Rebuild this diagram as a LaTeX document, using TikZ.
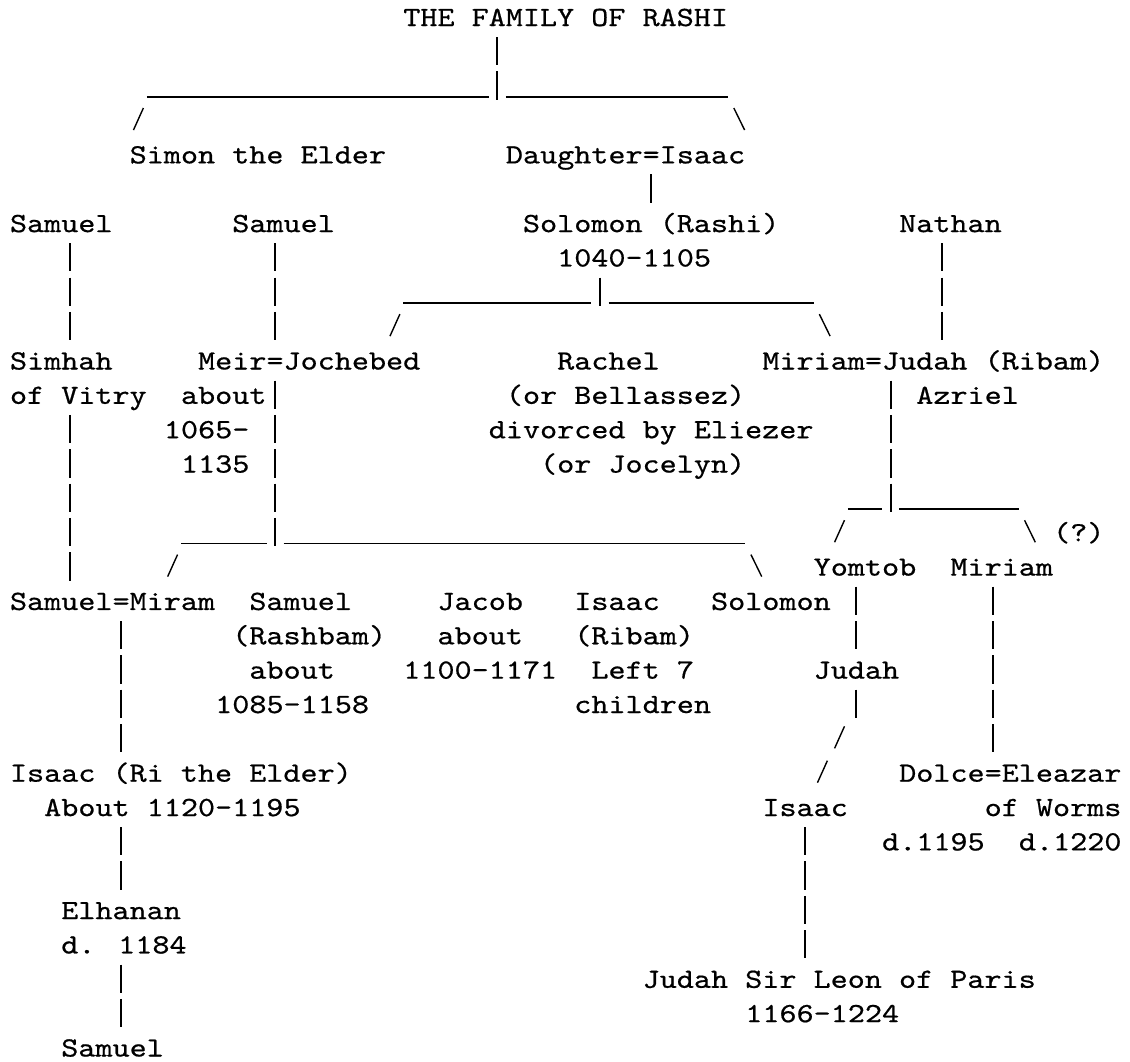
\documentclass[tikz,border=0pt]{standalone}
\usepackage{fontspec}
\newfontfamily\famfont{lmmono10-regular.otf}[FakeStretch=1.171,FakeBold=0.6]
\usepackage{tikz}
\usetikzlibrary{calc}

\begin{document}
\begin{tikzpicture}[x=8.55pt,y=17.175pt,
	person/.style={anchor=base west,inner sep=0pt,outer sep=0pt,font={\famfont\fontsize{13.9pt}{17pt}\selectfont}},
	vline/.style={line width=1pt,dash pattern=on 14.15pt off 3.025pt},
	hline/.style={line width=.65pt},
	slant/.style={line width=.7pt}]
	\useasboundingbox (-5pt,13pt) rectangle (560pt,-517.5pt);
		\node[person] (title) at (23,0) {THE FAMILY OF RASHI};
		\node[person] (simon) at (7,-4) {Simon the Elder};
		\node[person] (daughter) at (29,-4) {Daughter=Isaac};
		\node[person] (samuelA) at (0,-6) {Samuel};
		\node[person] (samuelB) at (13,-6) {Samuel};
		\node[person] (rashi) at (30,-6) {Solomon (Rashi)};
		\node[person] (rashiyr) at (32,-7) {1040-1105};
		\node[person] (nathan) at (52,-6) {Nathan};
		\node[person] (simhah) at (0,-10) {Simhah};
		\node[person] (simhahB) at (0,-11) {of Vitry};
		\node[person] (meir) at (11,-10) {Meir=Jochebed};
		\node[person] (meirA) at (10,-11) {about};
		\node[person] (meirB) at (9,-12) {1065-};
		\node[person] (meirC) at (10,-13) {1135};
		\node[person] (rachel) at (32,-10) {Rachel};
		\node[person] (rachelA) at (29,-11) {(or Bellassez)};
		\node[person] (rachelB) at (28,-12) {divorced by Eliezer};
		\node[person] (rachelC) at (31,-13) {(or Jocelyn)};
		\node[person] (miriam) at (44,-10) {Miriam=Judah (Ribam)};
		\node[person] (azriel) at (53,-11) {Azriel};
		\node[person] (query) at (61,-15) {(?)};
		\node[person] (yomtob) at (47,-16) {Yomtob};
		\node[person] (miriamB) at (55,-16) {Miriam};
		\node[person] (samMiram) at (0,-17) {Samuel=Miram};
		\node[person] (rashbam) at (14,-17) {Samuel};
		\node[person] (rashbamA) at (13,-18) {(Rashbam)};
		\node[person] (rashbamB) at (14,-19) {about};
		\node[person] (rashbamC) at (12,-20) {1085-1158};
		\node[person] (jacob) at (25,-17) {Jacob};
		\node[person] (jacobA) at (25,-18) {about};
		\node[person] (jacobB) at (23,-19) {1100-1171};
		\node[person] (ribam) at (33,-17) {Isaac};
		\node[person] (ribamA) at (33,-18) {(Ribam)};
		\node[person] (ribamB) at (34,-19) {Left 7};
		\node[person] (ribamC) at (33,-20) {children};
		\node[person] (solomon) at (41,-17) {Solomon};
		\node[person] (judah) at (47,-19) {Judah};
		\node[person] (ri) at (0,-22) {Isaac (Ri the Elder)};
		\node[person] (riA) at (2,-23) {About 1120-1195};
		\node[person] (dolce) at (52,-22) {Dolce=Eleazar};
		\node[person] (dolceA) at (57,-23) {of Worms};
		\node[person] (dolceB) at (51,-24) {d.1195};
		\node[person] (dolceC) at (59,-24) {d.1220};
		\node[person] (isaac) at (44,-23) {Isaac};
		\node[person] (elhanan) at (3,-26) {Elhanan};
		\node[person] (elhananA) at (3,-27) {d. 1184};
		\node[person] (leon) at (37,-28) {Judah Sir Leon of Paris};
		\node[person] (leonA) at (43,-29) {1166-1224};
		\node[person] (samuelC) at (3,-30) {Samuel};
		\coordinate (jTitle) at (28.5,-2);
		\coordinate (jRashi) at (34.5,-8);
		\coordinate (jMeir) at (15.5,-15);
		\coordinate (jJudah) at (51.5,-14);
		% top of the tree
		\draw[vline] ($(title.base west)+(5.5,-.322)$) -- ($(jTitle)+(0,-.146)$);
		\draw[hline] ($(jTitle)+(-20.5,-.064)$) -- ($(jTitle)+(-.5,-.064)$) ($(jTitle)+(.5,-.064)$) -- ($(jTitle)+(13.5,-.064)$);
		\draw[slant] ($(simon.base west)+(.8,1.612)$) -- ++(-.58,-.641);
		\draw[slant] ($(daughter.base west)+(13.33,1.612)$) -- ++(.63,-.641);
		\draw[vline] ($(daughter.base west)+(8.5,-.322)$) -- ($(rashi.base west)+(7.5,.854)$);
		% children of Rashi
		\draw[vline] ($(rashiyr.base west)+(2.5,-.322)$) -- ($(jRashi)+(0,-.146)$);
		\draw[hline] ($(jRashi)+(-11.5,-.064)$) -- ($(jRashi)+(-.5,-.064)$) ($(jRashi)+(.5,-.064)$) -- ($(jRashi)+(12.5,-.064)$);
		\draw[slant] ($(meir.base west)+(11.8,1.612)$) -- ++(-.58,-.641);
		\draw[slant] ($(miriam.base west)+(3.33,1.612)$) -- ++(.63,-.641);
		\draw[vline] ($(samuelA.base west)+(3.5,-.322)$) -- ($(simhah.base west)+(3.5,.854)$);
		\draw[vline] ($(samuelB.base west)+(2.5,-.322)$) -- ($(meir.base west)+(4.5,.854)$);
		\draw[vline] ($(nathan.base west)+(2.5,-.322)$) -- ($(miriam.base west)+(10.5,.854)$);
		\draw[vline] ($(simhahB.base west)+(3.5,-.322)$) -- ($(samMiram.base west)+(3.5,.854)$);
		% children of Meir
		\draw[vline] ($(meir.base west)+(4.5,-.322)$) -- ($(jMeir)+(0,-.146)$);
		\draw[hline] ($(jMeir)+(-5.5,-.064)$) -- ($(jMeir)+(-.5,-.064)$) ($(jMeir)+(.5,-.064)$) -- ($(jMeir)+(27.5,-.064)$);
		\draw[slant] ($(samMiram.base west)+(9.8,1.612)$) -- ++(-.58,-.641);
		\draw[slant] ($(solomon.base west)+(2.33,1.612)$) -- ++(.63,-.641);
		% children of Judah
		\draw[vline] ($(miriam.base west)+(7.5,-.322)$) -- ($(jJudah)+(0,-.146)$);
		\draw[hline] ($(jJudah)+(-2.5,-.064)$) -- ($(jJudah)+(-.5,-.064)$) ($(jJudah)+(.5,-.064)$) -- ($(jJudah)+(7.5,-.064)$);
		\draw[slant] ($(yomtob.base west)+(1.8,1.612)$) -- ++(-.58,-.641);
		\draw[slant] ($(miriamB.base west)+(4.33,1.612)$) -- ++(.63,-.641);
		\draw[vline] ($(yomtob.base west)+(2.5,-.322)$) -- ($(judah.base west)+(2.5,.854)$);
		\draw[vline] ($(judah.base west)+(2.5,-.322)$) -- ++(0,-.824);
		\draw[slant] ($(isaac.base west)+(4.8,2.612)$) -- ++(-.58,-.641);
		\draw[slant] ($(isaac.base west)+(3.8,1.612)$) -- ++(-.58,-.641);
		\draw[vline] ($(isaac.base west)+(2.5,-.322)$) -- ($(leon.base west)+(9.5,.854)$);
		\draw[vline] ($(miriamB.base west)+(2.5,-.322)$) -- ($(dolce.base west)+(5.5,.854)$);
		% line of Samuel and Miram
		\draw[vline] ($(samMiram.base west)+(6.5,-.322)$) -- ($(ri.base west)+(6.5,.854)$);
		\draw[vline] ($(riA.base west)+(4.5,-.322)$) -- ($(elhanan.base west)+(3.5,.854)$);
		\draw[vline] ($(elhananA.base west)+(3.5,-.322)$) -- ($(samuelC.base west)+(3.5,.854)$);
\end{tikzpicture}
\end{document}
